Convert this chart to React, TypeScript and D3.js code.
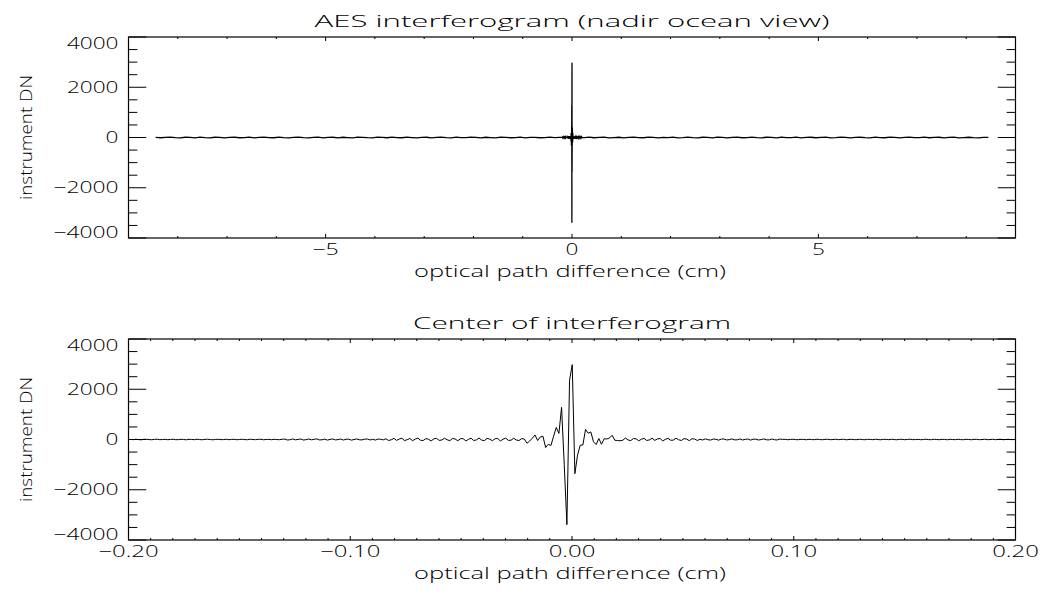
import React from "react";
import * as d3 from "d3";

// ---- data ----
// Bottom panel: samples every 0.0012 cm starting at -0.1991 cm
const sampleStep = 0.0012;
const firstOPD = -0.1991;
const leftWingDN = [
  5, -8, 10, -4, -12, 6, 9, -3, -10, 4, 12, -6, -2, 8, -9, 3, 11, -7, -5, 10,
  -3, -11, 7, 2, -8, 12, -4, -9, 6, 10, -2, -12, 5, 8, -6, -3, 11, -9, 4, 7,
  -10, 2, 9, -5, -8, 12, -1, -7, 6, 10, -11, 3, 5, -9, 8, -4, -6, 11,
  15, -20, -8, 22, -14, 5, 18, -22, -6, 20,
  -12, 8, 24, -18, -10, 16, -24, 4, 21, -15,
  -5, 19, -21, 10, 14, -25, -3, 23, -11, -17,
  12, 20, -19, 6, -23, 18, 9, -14,
  30, -40, -10, 45, -35, 20, 50, -45, -5, 40,
  -50, 15, 55, -30, -40, 35, 10, -55, 25, 45,
  -35, -20, 50, -10, -45, 40, 20, -50, 30, 35,
  -55, 5, 50, -40, -15, 55, -25, -45, 45, 15,
  -50, 30, 40, -60, 10, 55, -35, -30, 50, -20,
  -40, 35,
];
const centerDN = [
  20, -150, -60, 50, 180, -40, 100, 130, -320, -190, -240, 130, 480, 240, 1280,
  -1000, -3390, 2360, 2980, -1360, -620, -230, -220, 400, 250, 300, -90, -200,
  40, -190, 30, 20, 60, 170, -30, -40, -50,
];
const rightWingDN = [
  -30, 60, -20, -45, 40, 25, -50, 10, 45, -40,
  -15, 50, -35, 20, 40, -55, 5, 45, -30, -25,
  50, -10, -40, 35, 15, -45, 30, 20, -40, 10,
  -20, 25, -10, -22, 18, 8, -25, 15, 20, -18,
  -5, 24, -15, -12, 22, -20, 6, 19, -24, 10,
  14, -21, -3, 23, -13, -16, 20, -8, -19, 17, 5,
  6, -9, 3, 10, -5, -8, 7, 2, -10, 9,
  -4, -6, 11, -2, -9, 5, 8, -7, -3, 10,
  -8, 4, 9, -11, 1, 7, -6, -5, 10, -3,
  -9, 8, 2, -7, 11, -4, -10, 6, 3, -8,
  9, -2, -11, 7, 5, -9, 4, 10, -6, -3,
  8, -10, 2, 9, -5, -7, 11, -1, -8, 6,
  4, -11, 9, -3, -6, 10, -4, -9, 7, 2,
  -10, 5, 8, -7, -2, 11, -6, -4, 9, -8,
  3, 10, -9, 1, 7, -5, -3,
];

// Top panel: the outer parts of the interferogram, every 0.1 cm
const wideStep = 0.1;
const wideLeftStart = -8.45;
const wideRightStart = 0.25;
const wideLeftDN = [
  6, -10, 4, 12, -8, -15, 9, 3, -11, 15,
  -5, -12, 10, 8, -16, 5, 14, -9, -3, 11,
  -14, 7, 16, -6, -10, 13, -4, -15, 8, 12,
  -7, -13, 5, 15, -11, 2, 10, -16, 9, -3,
  -12, 14, 6, -8, -15, 11, 4, -10, 17, -5,
  -9, 13, -2, -14, 8, 10, -17, 3, 12, -6,
  -11, 15, -4, -7, 14, 5, -13, 9, -1, -15,
  12, 6, -10, -5, 16, -12, 3, 8, -9, -4,
  13, -7, 2,
];
const wideRightDN = [
  -4, 11, -9, 5, 15, -13, -2, 10, -16, 7,
  12, -6, -10, 14, 3, -15, 8, -5, 13, -11,
  -1, 16, -8, -12, 9, 4, -14, 11, 6, -17,
  2, 13, -9, -7, 15, -3, -11, 10, 5, -14,
  17, -6, -4, 12, -15, 7, 9, -10, 1, 14,
  -13, -5, 11, 8, -16, 4, 10, -7, -12, 15,
  -2, -9, 13, 6, -14, 3, 11, -8, -5, 16,
  -10, 2, 9, -13, 7, 12, -15, -1, 10, -6,
  -11, 8, 4,
];

const yMajorTicks = [-4000, -2000, 0, 2000, 4000];
const topXMajorTicks = [-5, 0, 5];
const bottomXMajorTicks = [-0.2, -0.1, 0, 0.1, 0.2];
const topTitle = "AES interferogram (nadir ocean view)";
const bottomTitle = "Center of interferogram";
const xAxisTitle = "optical path difference (cm)";
const yAxisTitle = "instrument DN";

// ---- build series ----
type Pt = [number, number];
const centerSeries: Pt[] = [...leftWingDN, ...centerDN, ...rightWingDN].map(
  (v, i) => [firstOPD + i * sampleStep, v]
);
const wideSeries: Pt[] = [
  ...wideLeftDN.map((v, i) => [wideLeftStart + i * wideStep, v] as Pt),
  ...centerSeries,
  ...wideRightDN.map((v, i) => [wideRightStart + i * wideStep, v] as Pt),
];

const FONT = "'Open Sans', 'DejaVu Sans', sans-serif";
const FS = 16;
const FW = 300;

function labelWidth(s: string) {
  let w = 0;
  for (const ch of s) {
    if (ch === "−" || ch === "-") w += 13.5;
    else if (ch === ".") w += 8;
    else w += 12.9;
  }
  return w;
}

const L = 128.5;
const R = 1015.5;

interface PanelProps {
  top: number;
  bottom: number;
  xDomain: [number, number];
  xMajor: number[];
  xMinorCount: number;
  fmt: (v: number) => string;
  data: Pt[];
  title: string;
  titleLen: number;
  id: string;
  lineWidth: number;
}

function Panel(p: PanelProps) {
  const x = d3.scaleLinear().domain(p.xDomain).range([L, R]);
  const y = d3.scaleLinear().domain([-4000, 4000]).range([p.bottom, p.top]);
  const xMinor = x.ticks(p.xMinorCount);
  const yMinor = y.ticks(16);
  const h = p.bottom - p.top;
  const w = R - L;
  const xMajLen = 0.02 * h;
  const xMinLen = 0.01 * h;
  const yMajLen = 0.02 * w;
  const yMinLen = 0.01 * w;
  const isMajorX = (v: number) => p.xMajor.some((m) => Math.abs(m - v) < 1e-9);
  const isMajorY = (v: number) => yMajorTicks.some((m) => Math.abs(m - v) < 1e-9);
  const line = d3
    .line<Pt>()
    .x((d) => x(d[0]))
    .y((d) => y(d[1]));
  const midX = (L + R) / 2;
  const yfmt = d3.format("d");
  const textProps = { fontFamily: FONT, fontSize: FS, fontWeight: FW, fill: "#000" };
  return (
    <g>
      <defs>
        <clipPath id={p.id}>
          <rect x={L} y={p.top} width={w} height={h} />
        </clipPath>
      </defs>
      <path
        d={line(p.data) || ""}
        fill="none"
        stroke="#000"
        strokeWidth={p.lineWidth}
        strokeLinejoin="miter"
        clipPath={`url(#${p.id})`}
      />
      <rect x={L} y={p.top} width={w} height={h} fill="none" stroke="#000" strokeWidth={1.2} />
      {xMinor.map((v, i) => {
        const len = isMajorX(v) ? xMajLen : xMinLen;
        const xx = x(v);
        return (
          <g key={"xt" + i}>
            <line x1={xx} x2={xx} y1={p.bottom} y2={p.bottom - len} stroke="#000" strokeWidth={1} />
            <line x1={xx} x2={xx} y1={p.top} y2={p.top + len} stroke="#000" strokeWidth={1} />
          </g>
        );
      })}
      {yMinor.map((v, i) => {
        const len = isMajorY(v) ? yMajLen : yMinLen;
        const yy = y(v);
        return (
          <g key={"yt" + i}>
            <line x1={L} x2={L + len} y1={yy} y2={yy} stroke="#000" strokeWidth={1} />
            <line x1={R} x2={R - len} y1={yy} y2={yy} stroke="#000" strokeWidth={1} />
          </g>
        );
      })}
      {yMajorTicks.map((v, i) => {
        const s = yfmt(v);
        let by = y(v) + 5.5;
        if (v === 4000) by = p.top + 11.5;
        if (v === -4000) by = p.bottom - 0.5;
        return (
          <text
            key={"yl" + i}
            x={118.5}
            y={by}
            textAnchor="end"
            {...textProps}
            textLength={labelWidth(s)}
            lengthAdjust="spacingAndGlyphs"
          >
            {s}
          </text>
        );
      })}
      {p.xMajor.map((v, i) => {
        const s = p.fmt(v);
        return (
          <text
            key={"xl" + i}
            x={x(v)}
            y={p.bottom + 16.5}
            textAnchor="middle"
            {...textProps}
            textLength={labelWidth(s)}
            lengthAdjust="spacingAndGlyphs"
          >
            {s}
          </text>
        );
      })}
      <text
        x={midX}
        y={p.top - 10}
        textAnchor="middle"
        {...textProps}
        textLength={p.titleLen}
        lengthAdjust="spacingAndGlyphs"
      >
        {p.title}
      </text>
      <text
        x={midX - 2}
        y={p.bottom + 38.5}
        textAnchor="middle"
        {...textProps}
        fontSize={15.5}
        textLength={312}
        lengthAdjust="spacingAndGlyphs"
      >
        {xAxisTitle}
      </text>
      <text
        transform={`translate(31.5,${(p.top + p.bottom) / 2}) rotate(-90)`}
        textAnchor="middle"
        {...textProps}
        textLength={125}
        lengthAdjust="spacingAndGlyphs"
      >
        {yAxisTitle}
      </text>
    </g>
  );
}

export default function App() {
  const fmtTop = d3.format("d");
  const fmtBottom = d3.format(".2f");
  return (
    <svg
      width={1042}
      height={597}
      style={{ position: "absolute", left: 0, top: 0, background: "#fff" }}
    >
      <rect width={1042} height={597} fill="#fff" />
      <Panel
        id="clipTop"
        top={37}
        bottom={238}
        xDomain={[-9, 9]}
        xMajor={topXMajorTicks}
        xMinorCount={18}
        fmt={fmtTop}
        data={wideSeries}
        title={topTitle}
        titleLen={515}
        lineWidth={1.3}
      />
      <Panel
        id="clipBottom"
        top={339}
        bottom={540}
        xDomain={[-0.2, 0.2]}
        xMajor={bottomXMajorTicks}
        xMinorCount={40}
        fmt={fmtBottom}
        data={centerSeries}
        title={bottomTitle}
        titleLen={318}
        lineWidth={1}
      />
    </svg>
  );
}
